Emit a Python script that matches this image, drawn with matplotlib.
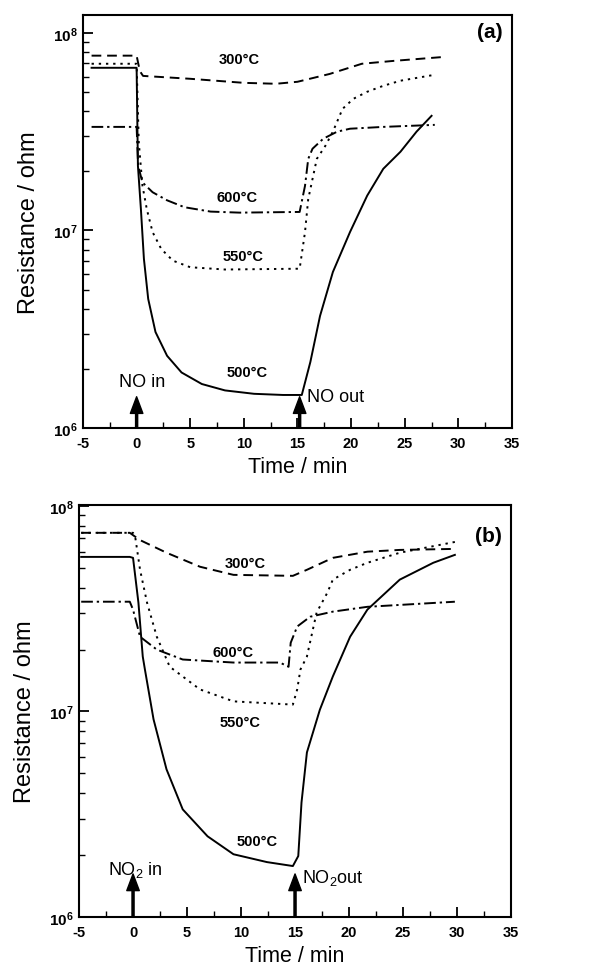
import math
import matplotlib
matplotlib.use("Agg")
import matplotlib.pyplot as plt
from matplotlib.ticker import FixedLocator, LogLocator, NullFormatter, FuncFormatter

plt.rcParams['font.family'] = ['Liberation Sans', 'DejaVu Sans']
plt.rcParams['mathtext.fontset'] = 'custom'
plt.rcParams['mathtext.rm'] = 'Liberation Sans'
plt.rcParams['mathtext.it'] = 'Liberation Sans:italic'
plt.rcParams['mathtext.bf'] = 'Liberation Sans:bold'
plt.rcParams['axes.unicode_minus'] = False

# ---------------- Panel (a): NO ----------------
t300a = [-4.2, 0.0, 0.3, 0.6, 5.0, 10.0, 13.0, 15.0, 18.0, 21.0, 24.0, 28.7]
R300a = [7.66e7, 7.66e7, 6.4e7, 6.05e7, 5.85e7, 5.58e7, 5.52e7, 5.65e7, 6.19e7, 6.97e7, 7.21e7, 7.55e7]

t550a = [-4.2, 0.0, 0.2, 0.54, 0.95, 1.49, 2.3, 3.38, 5.0, 8.24, 15.2, 15.7, 16.0, 16.8, 17.6, 18.3, 19.2, 20.2, 21.5, 23.0, 24.6, 27.8]
R550a = [6.97e7, 6.97e7, 2.8e7, 1.69e7, 1.28e7, 9.8e6, 8.05e6, 7.03e6, 6.51e6, 6.34e6, 6.4e6, 9.8e6, 1.44e7, 2.3e7, 2.68e7, 3.16e7, 4.12e7, 4.63e7, 5.03e7, 5.39e7, 5.72e7, 6.13e7]

t600a = [-4.2, 0.0, 0.14, 0.54, 1.49, 2.84, 4.46, 6.9, 9.6, 15.2, 15.7, 16.0, 16.4, 17.4, 18.7, 19.9, 23.0, 27.8]
R600a = [3.34e7, 3.34e7, 2.13e7, 1.75e7, 1.56e7, 1.42e7, 1.31e7, 1.245e7, 1.23e7, 1.24e7, 1.68e7, 2.30e7, 2.59e7, 2.91e7, 3.16e7, 3.27e7, 3.34e7, 3.42e7]

t500a = [-4.2, 0.0, 0.12, 0.4, 0.68, 1.08, 1.76, 2.84, 4.19, 6.08, 8.24, 10.95, 13.65, 15.4, 16.2, 17.1, 18.3, 19.9, 21.5, 23.0, 24.6, 26.1, 27.5]
R500a = [6.65e7, 6.65e7, 2.13e7, 1.28e7, 7.18e6, 4.5e6, 3.06e6, 2.32e6, 1.91e6, 1.67e6, 1.55e6, 1.49e6, 1.47e6, 1.47e6, 2.16e6, 3.69e6, 6.16e6, 9.82e6, 1.50e7, 2.05e7, 2.50e7, 3.16e7, 3.80e7]

# ---------------- Panel (b): NO2 ----------------
t300b = [-4.8, -0.3, 0.6, 3.1, 6.2, 9.3, 14.8, 16.1, 18.5, 21.7, 24.7, 29.8]
R300b = [7.40e7, 7.40e7, 6.84e7, 5.92e7, 5.06e7, 4.62e7, 4.57e7, 4.89e7, 5.59e7, 5.99e7, 6.11e7, 6.18e7]

t550b = [-4.8, 0.0, 0.2, 0.65, 1.3, 2.2, 3.4, 6.2, 9.3, 14.8, 15.2, 15.5, 16.1, 17.0, 18.0, 18.5, 20.1, 21.7, 24.7, 29.8]
R550b = [7.40e7, 7.40e7, 7.07e7, 4.89e7, 3.38e7, 2.31e7, 1.65e7, 1.28e7, 1.12e7, 1.08e7, 1.28e7, 1.60e7, 1.85e7, 3.03e7, 3.79e7, 4.38e7, 4.89e7, 5.29e7, 5.92e7, 6.68e7]

t600b = [-4.8, -0.3, 0.0, 0.65, 2.2, 4.6, 9.3, 13.6, 14.4, 14.6, 15.2, 16.4, 18.5, 21.7, 29.8]
R600b = [3.42e7, 3.42e7, 3.13e7, 2.31e7, 2.00e7, 1.79e7, 1.73e7, 1.73e7, 1.65e7, 2.16e7, 2.59e7, 2.89e7, 3.06e7, 3.23e7, 3.42e7]

t500b = [-4.8, -0.3, 0.0, 0.5, 0.9, 1.1, 1.9, 3.1, 4.6, 6.9, 9.3, 12.4, 14.8, 15.3, 15.6, 16.1, 17.3, 18.5, 20.1, 21.7, 24.7, 27.8, 29.8]
R500b = [5.65e7, 5.65e7, 5.59e7, 3.38e7, 1.85e7, 1.60e7, 9.15e6, 5.23e6, 3.34e6, 2.47e6, 2.02e6, 1.85e6, 1.77e6, 1.98e6, 3.61e6, 6.32e6, 1.02e7, 1.48e7, 2.31e7, 3.13e7, 4.38e7, 5.29e7, 5.78e7]

temps = ["300°C", "600°C", "550°C", "500°C"]
xticks = [-5, 0, 5, 10, 15, 20, 25, 30, 35]

fig = plt.figure(figsize=(6.08, 9.70), dpi=100)
axa = fig.add_axes([0.1365, 0.5577, 0.7056, 0.4258])
axb = fig.add_axes([0.1300, 0.0536, 0.7105, 0.4247])

ls_dash = (0, (5, 3))
ls_dot = (0, (1.2, 2.5))
ls_dashdot = (0, (6, 2, 1.2, 2))

def style(ax, ytop):
    ax.set_yscale('log')
    ax.set_xlim(-5, 35)
    ax.set_ylim(1e6, ytop)
    ax.xaxis.set_major_locator(FixedLocator(xticks))
    ax.xaxis.set_minor_locator(FixedLocator([v + 2.5 for v in xticks[:-1]]))
    ax.yaxis.set_major_locator(LogLocator(base=10, numticks=10))
    ax.yaxis.set_minor_locator(LogLocator(base=10, subs=range(2, 10), numticks=20))
    ax.yaxis.set_minor_formatter(NullFormatter())
    ax.yaxis.set_major_formatter(FuncFormatter(lambda v, p: r'$\mathbf{10^{%d}}$' % round(math.log10(v))))
    ax.tick_params(which='both', direction='in', top=False, right=False)
    ax.tick_params(which='major', length=7, width=1.3)
    ax.tick_params(which='minor', length=4, width=1.0)
    ax.tick_params(axis='x', labelsize=10.5, pad=6)
    ax.tick_params(axis='y', labelsize=11, pad=4)
    for lab in ax.get_xticklabels():
        lab.set_fontweight('bold')
    for sp in ax.spines.values():
        sp.set_linewidth(1.5)
    ax.set_xlabel('Time / min', fontsize=15.5, labelpad=4)
    ax.set_ylabel('Resistance / ohm', fontsize=17, labelpad=9)

lw = 1.4
# panel (a)
axa.plot(t300a, R300a, color='k', lw=lw, ls=ls_dash)
axa.plot(t550a, R550a, color='k', lw=lw, ls=ls_dot)
axa.plot(t600a, R600a, color='k', lw=lw, ls=ls_dashdot)
axa.plot(t500a, R500a, color='k', lw=lw, ls='-')
style(axa, 1.23e8)

tk = dict(fontsize=10.5, fontweight='bold', ha='center', va='center')
axa.text(9.6, 7.38e7, temps[0], **tk)
axa.text(9.4, 1.48e7, temps[1], **tk)
axa.text(9.9, 7.43e6, temps[2], **tk)
axa.text(10.3, 1.92e6, temps[3], **tk)
axa.text(0.5, 1.71e6, 'NO in', fontsize=13, ha='center', va='center')
axa.text(15.9, 1.44e6, 'NO out', fontsize=13, ha='left', va='center')
axa.text(0.979, 0.959, '(a)', transform=axa.transAxes, fontsize=15, fontweight='bold', ha='right', va='center')

arr = dict(facecolor='black', edgecolor='black', width=1.5, headwidth=9, headlength=12, shrink=0)
axa.annotate('', xy=(0, 1.44e6), xytext=(0, 1.0e6), arrowprops=arr)
axa.annotate('', xy=(15.2, 1.44e6), xytext=(15.2, 1.0e6), arrowprops=arr)

# panel (b)
axb.plot(t300b, R300b, color='k', lw=lw, ls=ls_dash)
axb.plot(t550b, R550b, color='k', lw=lw, ls=ls_dot)
axb.plot(t600b, R600b, color='k', lw=lw, ls=ls_dashdot)
axb.plot(t500b, R500b, color='k', lw=lw, ls='-')
style(axb, 1.01e8)

axb.text(10.4, 5.28e7, temps[0], **tk)
axb.text(9.3, 1.95e7, temps[1], **tk)
axb.text(9.9, 8.85e6, temps[2], **tk)
axb.text(11.5, 2.34e6, temps[3], **tk)
axb.text(0.2, 1.71e6, r'NO$_{\mathrm{2}}$ in', fontsize=13, ha='center', va='center')
axb.text(15.6, 1.56e6, r'NO$_{\mathrm{2}}$out', fontsize=13, ha='left', va='center')
axb.text(0.979, 0.925, '(b)', transform=axb.transAxes, fontsize=15, fontweight='bold', ha='right', va='center')
axb.annotate('', xy=(0, 1.62e6), xytext=(0, 1.0e6), arrowprops=arr)
axb.annotate('', xy=(15, 1.62e6), xytext=(15, 1.0e6), arrowprops=arr)

fig.savefig('out.png', dpi=100)
